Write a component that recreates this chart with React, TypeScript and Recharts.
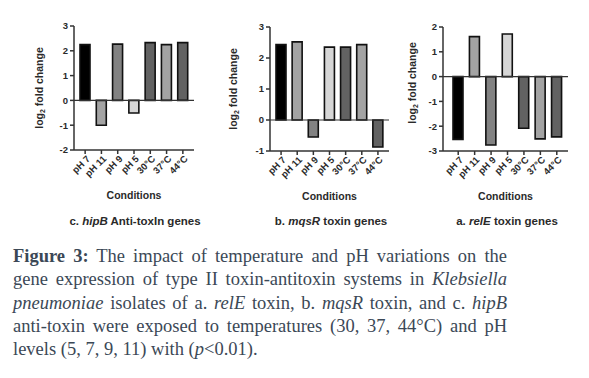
import React from 'react';
import { BarChart, Bar, XAxis, YAxis, Cell, ReferenceLine } from 'recharts';

// shared categories and bar fills
const conditions = ['pH 7', 'pH 11', 'pH 9', 'pH 5', '30°C', '37°C', '44°C'];
const barColors = ['#000000', '#a3a3a3', '#828282', '#d6d6d6', '#626262', '#a3a3a3', '#626262'];

// log2 fold change per condition
const hipBValues = [2.25, -1.0, 2.27, -0.51, 2.33, 2.25, 2.33];
const mqsRValues = [2.43, 2.52, -0.55, 2.35, 2.35, 2.43, -0.87];
const relEValues = [-2.53, 1.61, -2.76, 1.72, -2.08, -2.51, -2.43];

const hipBTicks = [-2, -1, 0, 1, 2, 3];
const mqsRTicks = [-1, 0, 1, 2, 3];
const relETicks = [-3, -2, -1, 0, 1, 2];

const FONT = '"Liberation Sans", Arial, sans-serif';
const INK = '#2a2a2a';

const YLabel = (props: any) => {
  const { viewBox, off, dy = 0 } = props;
  const cx = viewBox.x + viewBox.width - off;
  const cy = viewBox.y + viewBox.height / 2 + dy;
  return (
    <text
      transform={`translate(${cx},${cy}) rotate(-90)`}
      textAnchor="middle"
      dominantBaseline="central"
      fontSize={10.5}
      fontWeight={700}
      fill={INK}
      fontFamily={FONT}
    >
      log<tspan fontSize={7} dy={3}>2</tspan>
      <tspan dy={-3}> fold change</tspan>
    </text>
  );
};

const XLabel = (props: any) => {
  const { viewBox } = props;
  const cx = viewBox.x + viewBox.width / 2;
  return (
    <text x={cx} y={viewBox.y + 49} textAnchor="middle" fontSize={10.5} fontFamily={FONT} fontWeight={700} fill={INK}>
      Conditions
    </text>
  );
};

// slanted category label, ending just under its tick
const XTick = (props: any) => {
  const { x, y, payload } = props;
  return (
    <text
      transform={`translate(${x + 3},${y + 2}) rotate(-45)`}
      textAnchor="end"
      dominantBaseline="central"
      fontSize={9.5}
      fontWeight={700}
      fill={INK}
      fontFamily={FONT}
    >
      {payload.value}
    </text>
  );
};

type PanelProps = {
  values: number[];
  ticks: number[];
  left: number;
  width: number;
  yWidth: number;
  margin: { top: number; right: number; bottom: number; left: number };
  padLeft: number;
  labelOff: number;
  labelDy?: number;
};

const Panel = (p: PanelProps) => {
  const data = conditions.map((name, i) => ({ name, v: p.values[i] }));
  const axisStyle = { stroke: '#333', strokeWidth: 1.5 };
  return (
    <div style={{ position: 'absolute', left: p.left, top: 0 }}>
      <BarChart width={p.width} height={240} data={data} margin={p.margin}>
        <XAxis
          dataKey="name"
          height={60}
          interval={0}
          padding={{ left: p.padLeft, right: 3 }}
          axisLine={axisStyle}
          tickLine={axisStyle}
          tickSize={4}
          tickMargin={1}
          tick={<XTick />}
          label={<XLabel />}
        />
        <YAxis
          type="number"
          width={p.yWidth}
          domain={[p.ticks[0], p.ticks[p.ticks.length - 1]]}
          ticks={p.ticks}
          interval={0}
          axisLine={axisStyle}
          tickLine={axisStyle}
          tickSize={4}
          tickMargin={2}
          tick={{ fontSize: 9.5, fontWeight: 700, fill: INK, fontFamily: FONT }}
          label={<YLabel off={p.labelOff} dy={p.labelDy} />}
        />
        <ReferenceLine y={0} stroke="#333" strokeWidth={1.2} />
        <Bar dataKey="v" barSize={10} stroke="#111" strokeWidth={1.6} isAnimationActive={false}>
          {data.map((d, i) => (
            <Cell key={d.name} fill={barColors[i]} />
          ))}
        </Bar>
      </BarChart>
    </div>
  );
};

const PanelTitle = ({ cx, prefix, gene, rest }: { cx: number; prefix: string; gene: string; rest: string }) => (
  <div
    style={{
      position: 'absolute',
      left: cx - 100,
      top: 213,
      width: 200,
      textAlign: 'center',
      fontFamily: FONT,
      fontWeight: 700,
      fontSize: 11.5,
      lineHeight: '16px',
      color: INK,
      whiteSpace: 'nowrap',
    }}
  >
    {prefix}
    <i>{gene}</i>
    {rest}
  </div>
);

const lineStyle: React.CSSProperties = {
  textAlign: 'justify',
  textAlignLast: 'justify',
  whiteSpace: 'nowrap',
};

export default function App() {
  return (
    <div style={{ position: 'absolute', left: 0, top: 0, width: 589, height: 378, background: '#fff' }}>
      <Panel
        values={hipBValues}
        ticks={hipBTicks}
        left={0}
        width={200}
        yWidth={74}
        margin={{ top: 26, right: 6, bottom: 30, left: 0 }}
        padLeft={3}
        labelOff={35}
      />
      <Panel
        values={mqsRValues}
        ticks={mqsRTicks}
        left={196}
        width={194}
        yWidth={74}
        margin={{ top: 27, right: 1, bottom: 29, left: 0 }}
        padLeft={3}
        labelOff={37}
      />
      <Panel
        values={relEValues}
        ticks={relETicks}
        left={390}
        width={199}
        yWidth={53}
        margin={{ top: 27, right: 21, bottom: 29, left: 0 }}
        padLeft={7}
        labelOff={31}
        labelDy={-6}
      />
      <PanelTitle cx={135} prefix="c. " gene="hipB" rest=" Anti-toxIn genes" />
      <PanelTitle cx={331} prefix="b. " gene="mqsR" rest=" toxin genes" />
      <PanelTitle cx={507} prefix="a. " gene="relE" rest=" toxin genes" />
      <div
        style={{
          position: 'absolute',
          left: 13,
          top: 245,
          width: 494,
          fontFamily: '"Liberation Serif", "Times New Roman", serif',
          fontSize: 18.5,
          lineHeight: '23.3px',
          color: '#3b4856',
        }}
      >
        <div style={lineStyle}>
          <b>Figure 3:</b> The impact of temperature and pH variations on the
        </div>
        <div style={lineStyle}>
          gene expression of type II toxin-antitoxin systems in <i>Klebsiella</i>
        </div>
        <div style={lineStyle}>
          <i>pneumoniae</i> isolates of a. <i>relE</i> toxin, b. <i>mqsR</i> toxin, and c. <i>hipB</i>
        </div>
        <div style={lineStyle}>
          anti-toxin were exposed to temperatures (30, 37, 44°C) and pH
        </div>
        <div style={{ whiteSpace: 'nowrap' }}>
          levels (5, 7, 9, 11) with (<i>p</i>&lt;0.01).
        </div>
      </div>
    </div>
  );
}
